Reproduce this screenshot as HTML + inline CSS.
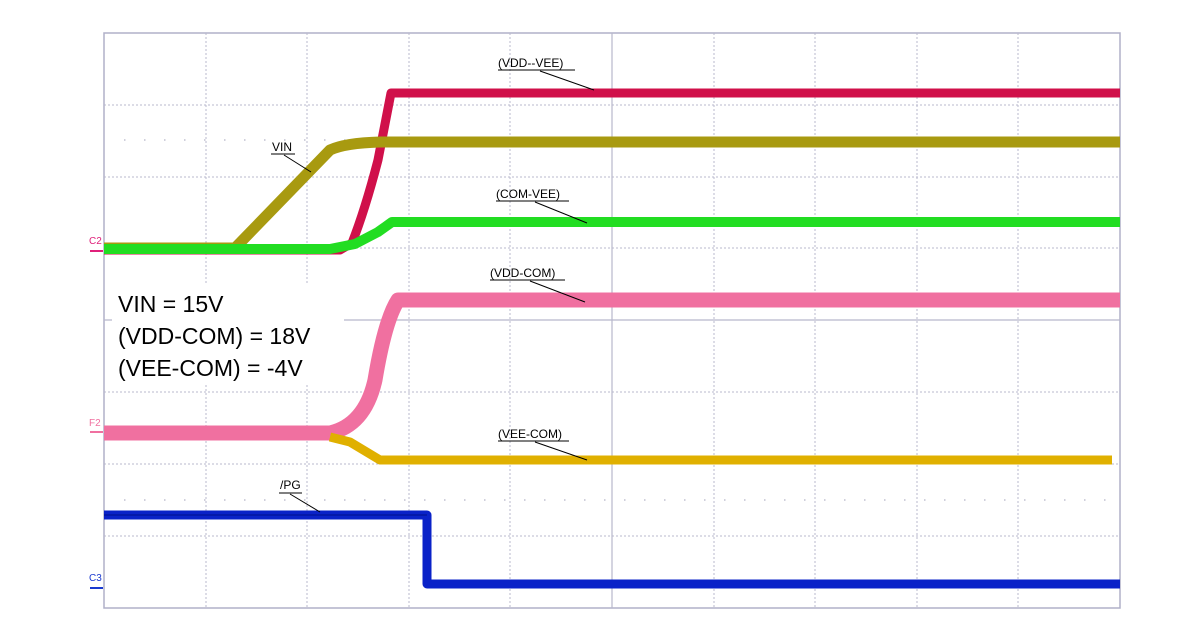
<!DOCTYPE html>
<html><head><meta charset="utf-8"><style>
html,body{margin:0;padding:0;background:#fff;width:1200px;height:632px;overflow:hidden}
svg{display:block}
text{font-family:"Liberation Sans",Arial,sans-serif}
</style></head><body>
<svg width="1200" height="632" viewBox="0 0 1200 632" xmlns="http://www.w3.org/2000/svg">
<rect x="104" y="33" width="1016" height="575" fill="#fff" stroke="#b0b0c8" stroke-width="1.5"/>
<g stroke="#b8b8cc" stroke-width="1" stroke-dasharray="2,2">
<line x1="206" y1="33" x2="206" y2="608"/><line x1="307" y1="33" x2="307" y2="608"/><line x1="409" y1="33" x2="409" y2="608"/><line x1="510" y1="33" x2="510" y2="608"/>
<line x1="714" y1="33" x2="714" y2="608"/><line x1="815" y1="33" x2="815" y2="608"/><line x1="917" y1="33" x2="917" y2="608"/><line x1="1018" y1="33" x2="1018" y2="608"/>
<line x1="104" y1="105" x2="1120" y2="105"/><line x1="104" y1="177" x2="1120" y2="177"/><line x1="104" y1="248" x2="1120" y2="248"/>
<line x1="104" y1="392" x2="1120" y2="392"/><line x1="104" y1="464" x2="1120" y2="464"/><line x1="104" y1="536" x2="1120" y2="536"/>
</g>
<g stroke="#b8b8cc" stroke-width="1.2">
<line x1="612" y1="33" x2="612" y2="608"/><line x1="104" y1="320" x2="1120" y2="320"/>
</g>
<g stroke="#c0c0d0" stroke-width="1.5" stroke-dasharray="1.5,18.5">
<line x1="124" y1="140" x2="1120" y2="140"/><line x1="124" y1="500" x2="1120" y2="500"/>
</g>
<!-- text box -->
<rect x="112" y="284" width="232" height="100" fill="#fff"/>
<text x="118" y="312" font-size="23" fill="#000">VIN = 15V</text>
<text x="118" y="344" font-size="23" fill="#000">(VDD-COM) = 18V</text>
<text x="118" y="376" font-size="23" fill="#000">(VEE-COM) = -4V</text>
<!-- traces -->
<g fill="none" stroke-linejoin="round">
<path d="M104 250 L340 250 L352 243 Q365 210 378 160 L391 93 L1120 93" stroke="#d0104a" stroke-width="9"/>
<path d="M104 248 L235 248 L330 150 Q345 143 380 142 L1120 142" stroke="#a89a10" stroke-width="11"/>
<path d="M104 249 L330 249 L355 244 L378 232 L392 222 L1120 222" stroke="#22dd22" stroke-width="10"/>
<path d="M104 433 L330 433 Q365 425 375 380 Q385 320 398 300 L1120 300" stroke="#f070a0" stroke-width="15"/>
<path d="M330 437 L350 442 L380 460 L1112 460" stroke="#e0b000" stroke-width="9"/>
<path d="M104 515 L427 515 L427 584 L1120 584" stroke="#0a22c8" stroke-width="9"/>
<path d="M104 515 L427 515" stroke="#00108a" stroke-width="1"/>
</g>
<!-- labels -->
<g font-size="12" fill="#000" stroke="#000">
<text x="498" y="67" stroke="none">(VDD--VEE)</text><line x1="498" y1="70" x2="575" y2="70"/><line x1="540" y1="71" x2="594" y2="90"/>
<text x="272" y="151" stroke="none">VIN</text><line x1="271" y1="154" x2="295" y2="154"/><line x1="284" y1="155" x2="311" y2="172"/>
<text x="496" y="198" stroke="none">(COM-VEE)</text><line x1="496" y1="201" x2="569" y2="201"/><line x1="535" y1="202" x2="587" y2="223"/>
<text x="490" y="277" stroke="none">(VDD-COM)</text><line x1="490" y1="280" x2="565" y2="280"/><line x1="530" y1="281" x2="585" y2="302"/>
<text x="498" y="438" stroke="none">(VEE-COM)</text><line x1="498" y1="441" x2="569" y2="441"/><line x1="535" y1="442" x2="587" y2="460"/>
<text x="280" y="489" stroke="none">/PG</text><line x1="279" y1="493" x2="302" y2="493"/><line x1="290" y1="494" x2="320" y2="512"/>
</g>
<text x="89" y="244" font-size="10" fill="#e0207a">C2</text><line x1="90" y1="251" x2="103" y2="251" stroke="#e0207a" stroke-width="2"/>
<text x="89" y="426" font-size="10" fill="#f070a0">F2</text><line x1="90" y1="432" x2="103" y2="432" stroke="#f070a0" stroke-width="2"/>
<text x="89" y="581" font-size="10" fill="#1a3ad0">C3</text><line x1="90" y1="588" x2="103" y2="588" stroke="#1a3ad0" stroke-width="2"/>
</svg>
</body></html>
